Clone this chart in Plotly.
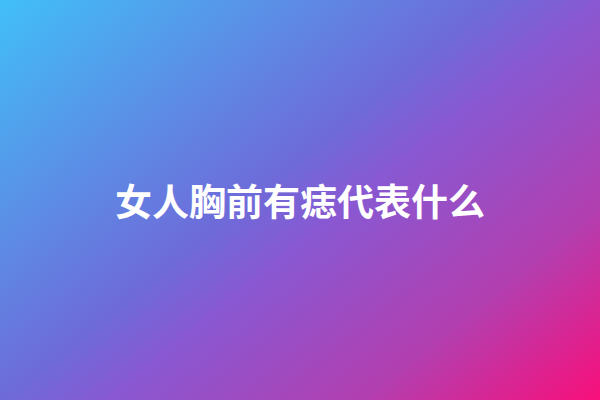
import plotly.graph_objects as go

# title text shown over the gradient
title_text = "女人胸前有痣代表什么"

# corner positions of the background grid and the gradient level at each corner
grid_x = [0, 1]
grid_y = [0, 1]
grid_z = [[0.45, 1.0],   # bottom row: left, right
          [0.0, 0.55]]   # top row: left, right

# colour stops of the background gradient
stop_pos = [0.0, 0.45, 0.55, 0.78, 1.0]
stop_col = ["#41bff8", "#6e6bd9", "#8958d2", "#b23fb0", "#f90f7a"]

fig = go.Figure()
fig.add_trace(go.Heatmap(
    x=grid_x, y=grid_y, z=grid_z,
    zsmooth="best", zmin=0, zmax=1,
    colorscale=[[p, c] for p, c in zip(stop_pos, stop_col)],
    showscale=False, hoverinfo="skip",
))

fig.add_annotation(
    text="<b>" + title_text + "</b>",
    x=0.5, y=0.5, xref="paper", yref="paper",
    showarrow=False,
    font=dict(family="Noto Sans CJK SC", size=37, color="white"),
)

fig.update_xaxes(visible=False, range=[0, 1], fixedrange=True)
fig.update_yaxes(visible=False, range=[0, 1], fixedrange=True)
fig.update_layout(
    width=600, height=400,
    margin=dict(l=0, r=0, t=0, b=0),
    paper_bgcolor="#7f5ed3", plot_bgcolor="#7f5ed3",
    hovermode=False,
)

# drop the page's default body margin so the picture fills the window
fig.write_html("out.html", config={"displayModeBar": False},
               post_script="document.body.style.margin='0';")
